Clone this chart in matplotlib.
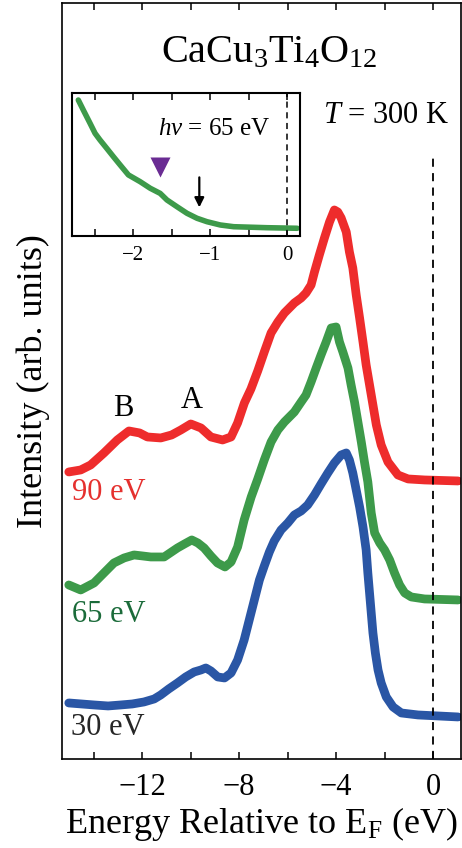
import numpy as np
import matplotlib
matplotlib.use("Agg")
import matplotlib.pyplot as plt

plt.rcParams['font.family'] = ['Liberation Serif', 'DejaVu Serif']
plt.rcParams['mathtext.fontset'] = 'custom'
plt.rcParams['mathtext.rm'] = 'Liberation Serif'
plt.rcParams['mathtext.it'] = 'Liberation Serif:italic'

# photoemission spectra, energy (eV) vs intensity (arb. units, offset)
e_90 = [-15.02, -14.53, -14.12, -13.57, -13.02, -12.54, -12.1, -11.78, -11.23, -10.78, -10.40,
        -9.99, -9.57, -9.16, -8.68, -8.33, -8.06, -7.78, -7.51, -7.23, -6.96, -6.68, -6.40,
        -6.13, -5.72, -5.44, -5.24, -5.03, -4.89, -4.69, -4.48, -4.27, -4.07, -3.93, -3.79,
        -3.58, -3.45, -3.31, -3.17, -3.03, -2.89, -2.76, -2.62, -2.48, -2.34, -2.14, -1.86,
        -1.45, -1.03, -0.35, 1.03]
i_90 = [287, 289, 294, 306, 319, 328, 326, 322, 321, 324, 329,
        335, 331, 322, 319, 322, 336, 356, 370, 388, 407, 426, 437,
        446, 456, 461, 466, 474, 487, 504, 521, 537, 549, 547, 541,
        527, 507, 491, 464, 441, 417, 394, 374, 354, 334, 314, 297,
        284, 280, 279, 278]

e_65 = [-15.02, -14.53, -13.98, -13.57, -13.16, -12.74, -12.33, -11.98, -11.64, -11.09, -10.54,
        -10.25, -9.95, -9.7, -9.44, -9.16, -8.89, -8.58, -8.33, -8.06, -7.79, -7.50, -7.23,
        -6.96, -6.68, -6.40, -6.13, -5.72, -5.44, -5.24, -5.03, -4.82, -4.62, -4.41, -4.20,
        -4.00, -3.86, -3.72, -3.51, -3.38, -3.24, -3.10, -2.96, -2.83, -2.69, -2.55, -2.41,
        -2.20, -2.00, -1.79, -1.59, -1.38, -1.17, -0.90, -0.35, 1.03]
i_65 = [174, 169, 176, 186, 196, 201, 204, 203, 202, 202, 211,
        215, 219, 216, 211, 203, 196, 192, 197, 212, 239, 262, 280,
        299, 317, 329, 337, 347, 357, 364, 377, 391, 404, 417, 431,
        432, 417, 407, 391, 374, 357, 337, 317, 297, 277, 246, 226,
        216, 209, 199, 186, 174, 166, 162, 160, 159]

e_30 = [-15.02, -14.5, -13.98, -13.4, -12.88, -12.4, -11.92, -11.5, -11.23, -10.9, -10.54,
        -10.2, -9.85, -9.57, -9.37, -9.16, -8.88, -8.6, -8.33, -8.06, -7.79, -7.58, -7.37,
        -7.16, -6.96, -6.75, -6.55, -6.27, -5.99, -5.72, -5.44, -5.17, -4.89, -4.62, -4.34,
        -4.07, -3.79, -3.58, -3.45, -3.31, -3.17, -3.03, -2.89, -2.76, -2.69, -2.62, -2.55,
        -2.48, -2.38, -2.27, -2.14, -1.93, -1.65, -1.31, -0.62, 1.03]
i_30 = [56, 55, 54, 53, 54, 55, 57, 60, 64, 70, 76,
        82, 87, 89, 91, 88, 82, 81, 86, 99, 119, 139, 159,
        179, 193, 207, 218, 229, 236, 244, 248, 254, 264, 275, 286,
        296, 304, 306, 299, 286, 269, 252, 232, 209, 186, 166, 146,
        126, 106, 89, 76, 62, 52, 46, 44, 42]

# inset: 65 eV spectrum near E_F
e_in = [-2.714, -2.649, -2.561, -2.496, -2.431, -2.344, -2.258, -2.170, -2.062, -1.910, -1.779,
        -1.649, -1.561, -1.431, -1.301, -1.170, -1.040, -0.867, -0.693, -0.258, 0.133]
i_in = [0.951, 0.881, 0.788, 0.718, 0.671, 0.613, 0.555, 0.497, 0.427, 0.380, 0.334,
        0.298, 0.252, 0.205, 0.159, 0.124, 0.100, 0.077, 0.065, 0.058, 0.054]

tri_pos = (-1.65, 0.48)
arrow_x, arrow_y0, arrow_y1 = -1.14, 0.41, 0.20

red = '#ee2c2c'
green = '#3d9a4a'
blue = '#2a56a5'

fig = plt.figure(figsize=(4.62, 8.48), dpi=100)
ax = fig.add_axes([0.1342, 0.1050, 0.8636, 0.8915])

for e, i, c in [(e_90, i_90, red), (e_65, i_65, green), (e_30, i_30, blue)]:
    ax.plot(e, i, color=c, lw=6.3, solid_capstyle='round', solid_joinstyle='round')

ax.plot([0, 0], [0, 604], color='k', lw=1.3, ls=(0, (4.5, 3.5)))

ax.set_xlim(-15.3, 1.15)
ax.set_ylim(0, 756)
ax.set_xticks([-12, -8, -4, 0])
ax.set_xticks([-14, -10, -6, -2], minor=True)
ax.set_yticks([])
ax.tick_params(axis='x', which='both', direction='in', top=True, length=5, width=1.1,
               labelsize=22, pad=10)
for s in ax.spines.values():
    s.set_linewidth(1.2)
ax.set_xlabel('Energy Relative to E$_\\mathrm{F}$ (eV)', fontsize=26, labelpad=2)
ax.set_ylabel('Intensity (arb. units)', fontsize=26, labelpad=9)

ax.text(-6.76, 697, 'CaCu$_3$Ti$_4$O$_{12}$', fontsize=29, ha='center', va='baseline')
ax.text(0.69, 636, '$T$ = 300 K', fontsize=22, ha='right', va='baseline')
ax.text(-12.78, 350, 'B', fontsize=22, ha='center', va='center')
ax.text(-9.95, 358, 'A', fontsize=22, ha='center', va='center')
ax.text(-14.87, 266, '90 eV', fontsize=22, color='#e5302e', ha='left', va='center')
ax.text(-14.87, 144, '65 eV', fontsize=22, color='#1b6b3a', ha='left', va='center')
ax.text(-14.93, 31, '30 eV', fontsize=22, color='#262626', ha='left', va='center')

# inset
axi = fig.add_axes([0.1552, 0.7217, 0.4942, 0.1686])
axi.plot(e_in, i_in, color=green, lw=4, solid_capstyle='round', solid_joinstyle='round')
axi.axvline(0, color='k', lw=1.1, ls=(0, (4, 3)))
axi.plot(*tri_pos, marker='v', ms=15, color='#6a2c93', mec='none')
axi.annotate('', xy=(arrow_x, arrow_y1), xytext=(arrow_x, arrow_y0),
             arrowprops=dict(arrowstyle='-|>', color='k', lw=1.6, mutation_scale=14,
                             shrinkA=0, shrinkB=0))
axi.text(-1.675, 0.706, '$hv$ = 65 eV', fontsize=18, ha='left', va='baseline')
axi.set_xlim(-2.8, 0.17)
axi.set_ylim(0, 1)
axi.set_xticks([-2, -1, 0])
axi.set_xticks([-2.5, -1.5, -0.5], minor=True)
axi.set_yticks([])
axi.tick_params(axis='x', which='both', direction='in', top=True, length=5, width=1.1,
                labelsize=15, pad=7)
for s in axi.spines.values():
    s.set_linewidth(1.5)

fig.savefig('out.png', dpi=100)
